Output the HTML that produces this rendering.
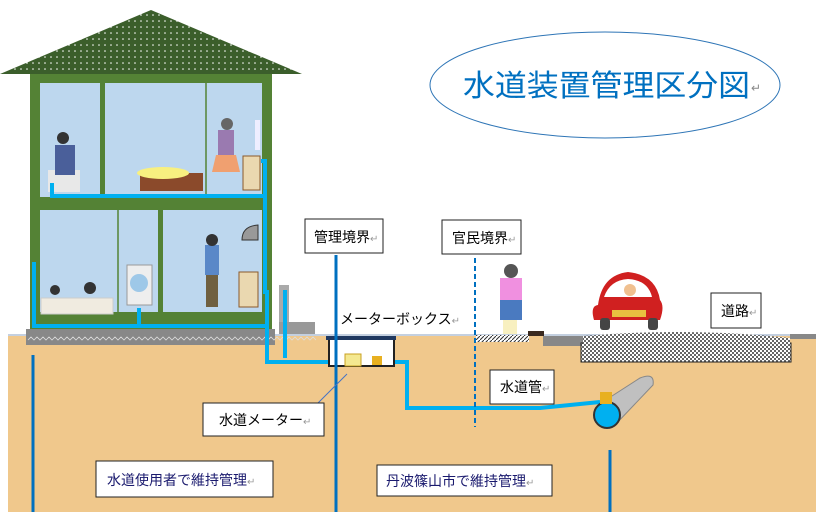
<!DOCTYPE html>
<html><head><meta charset="utf-8"><style>
html,body{margin:0;padding:0;background:#fff;width:816px;height:512px;overflow:hidden}
svg text{font-family:"Liberation Sans","Noto Sans CJK JP",sans-serif}
</style></head><body>
<svg width="816" height="512" viewBox="0 0 816 512" xmlns="http://www.w3.org/2000/svg">
<defs>
<pattern id="dots" width="6" height="6" patternUnits="userSpaceOnUse"><rect width="6" height="6" fill="#3b5e2b"/><circle cx="3" cy="3" r="0.8" fill="#fff"/></pattern>
<pattern id="chk" width="4" height="4" patternUnits="userSpaceOnUse"><rect width="4" height="4" fill="#fff"/><rect width="2" height="2" fill="#666"/><rect x="2" y="2" width="2" height="2" fill="#666"/></pattern>
<pattern id="hatch" width="4" height="4" patternUnits="userSpaceOnUse"><rect width="4" height="4" fill="#fff"/><path d="M0 4L4 0" stroke="#333" stroke-width="1"/></pattern>
</defs>
<!-- ground -->
<rect x="8" y="336" width="808" height="176" fill="#f0c88c"/>
<line x1="8" y1="335" x2="816" y2="335" stroke="#8aa0c0" stroke-width="1"/>
<!-- roof -->
<polygon points="151,10 0,74 302,74" fill="url(#dots)"/>
<!-- house -->
<rect x="30" y="74" width="242" height="256" fill="#548235"/>
<rect x="40" y="83" width="60" height="114" fill="#bdd7ee"/>
<rect x="105" y="83" width="157" height="111" fill="#bdd7ee"/>
<line x1="206" y1="83" x2="206" y2="194" stroke="#548235" stroke-width="1.5"/>
<rect x="40" y="210" width="118" height="102" fill="#bdd7ee"/>
<line x1="118" y1="210" x2="118" y2="312" stroke="#548235" stroke-width="1.5"/>
<rect x="163" y="210" width="99" height="102" fill="#bdd7ee"/>
<!-- foundation -->
<rect x="26" y="329" width="249" height="16" fill="#888"/>
<path d="M28 340 l3 -3 l3 3 l3 -3 l3 3 l3 -3 l3 3 l3 -3 l3 3 l3 -3 l3 3 l3 -3 l3 3 l3 -3 l3 3 l3 -3 l3 3 l3 -3 l3 3 l3 -3 l3 3 l3 -3 l3 3 l3 -3 l3 3 l3 -3 l3 3 l3 -3 l3 3 l3 -3 l3 3 l3 -3 l3 3 l3 -3 l3 3 l3 -3 l3 3 l3 -3 l3 3 l3 -3 l3 3 l3 -3 l3 3 l3 -3 l3 3 l3 -3 l3 3 l3 -3 l3 3 l3 -3 l3 3 l3 -3 l3 3 l3 -3 l3 3 l3 -3 l3 3 l3 -3 l3 3 l3 -3 l3 3 l3 -3 l3 3 l3 -3 l3 3 l3 -3 l3 3 l3 -3 l3 3 l3 -3 l3 3 l3 -3 l3 3 l3 -3 l3 3 l3 -3 l3 3 l3 -3 l3 3 l3 -3 l3 3 l3 -3 l3 3 l3 -3 l3 3 l3 -3 l3 3 l3 -3 l3 3 l3 -3 l3 3 l3 -3 l3 3 l3 -3 l3 3 l3 -3 l3 3" fill="none" stroke="#ddd" stroke-width="0.8"/>
<!-- furniture / people simplified -->
<rect x="48" y="170" width="32" height="22" fill="#e8e8e8"/>
<rect x="55" y="145" width="20" height="30" fill="#4a5f9a"/>
<circle cx="63" cy="138" r="6" fill="#333"/>
<rect x="140" y="173" width="63" height="18" fill="#8b4a2b"/>
<ellipse cx="163" cy="173" rx="26" ry="6" fill="#f8f080"/>
<rect x="218" y="130" width="16" height="25" fill="#9a7ab0"/>
<polygon points="216,155 236,155 240,172 212,172" fill="#f0a070"/>
<circle cx="227" cy="124" r="6" fill="#666"/>
<rect x="243" y="156" width="17" height="34" fill="#ead8b0" stroke="#8b5a2b"/>
<rect x="255" y="120" width="5" height="30" fill="#eef"/>
<rect x="41" y="298" width="72" height="16" fill="#f0ebe0" stroke="#ccc"/>
<circle cx="55" cy="290" r="5" fill="#333"/><circle cx="90" cy="288" r="6" fill="#333"/>
<rect x="127" y="265" width="25" height="40" fill="#eee" stroke="#999"/>
<circle cx="139" cy="283" r="9" fill="#9ec8e8"/>
<rect x="205" y="245" width="14" height="30" fill="#5a88c8"/>
<rect x="206" y="275" width="12" height="32" fill="#706040"/>
<circle cx="212" cy="240" r="6" fill="#333"/>
<rect x="239" y="272" width="19" height="35" fill="#ead8b0" stroke="#8b5a2b"/>
<path d="M242 240 Q242 226 258 225 L258 240 Z" fill="#999" stroke="#333"/>
<rect x="279" y="285" width="10" height="48" fill="#aaa"/>
<rect x="279" y="322" width="36" height="12" fill="#999"/>
<!-- pipes -->
<g fill="none" stroke="#00b0f0" stroke-width="4">
<path d="M52 183 V196 H265"/>
<path d="M261 161 H265 V292 H267 V362 H330"/>
<path d="M34 262 V326 H265"/>
<path d="M139 308 V326"/>
<path d="M285 290 V358"/>
<path d="M395 362 H407 V408 H540 L600 402"/>
</g>
<!-- meter box -->
<rect x="329" y="339" width="65" height="27" fill="#fff" stroke="#222" stroke-width="2"/>
<rect x="326" y="336" width="70" height="4" fill="#1f3860"/>
<rect x="345" y="354" width="16" height="12" fill="#f4e890" stroke="#c9a020"/>
<rect x="372" y="356" width="10" height="9" fill="#e8b020"/>
<!-- vertical boundary lines -->
<g stroke="#0070c0" stroke-width="3">
<line x1="336" y1="255" x2="336" y2="512"/>
<line x1="33" y1="355" x2="33" y2="512"/>
<line x1="610" y1="450" x2="610" y2="512"/>
</g>
<line x1="475" y1="258" x2="475" y2="427" stroke="#0070c0" stroke-width="2" stroke-dasharray="5,3"/>
<line x1="316" y1="370" x2="347" y2="370" stroke="none"/>
<line x1="317" y1="404" x2="347" y2="374" stroke="#4472c4" stroke-width="1"/>
<!-- sidewalk & road -->
<rect x="476" y="335" width="53" height="7" fill="url(#hatch)"/>
<rect x="528" y="331" width="16" height="5" fill="#3a2a20"/>
<rect x="543" y="336" width="40" height="10" fill="#888"/>
<rect x="581" y="343" width="210" height="19" fill="url(#chk)" stroke="#222"/>
<path d="M583 336 Q690 327 790 338 L790 345 L583 345 Z" fill="url(#chk)"/>
<rect x="790" y="334" width="26" height="5" fill="#888"/>
<!-- woman -->
<rect x="500" y="278" width="22" height="24" fill="#f090e0"/>
<rect x="500" y="300" width="22" height="20" fill="#4a7ac0"/>
<circle cx="511" cy="271" r="7" fill="#555"/>
<rect x="503" y="320" width="14" height="14" fill="#f8f0c0"/>
<!-- car -->
<path d="M598 305 Q602 275 628 272 Q656 275 660 300 Q665 306 660 320 L594 320 Q590 306 598 305 Z" fill="#d02020"/>
<path d="M604 297 Q610 280 628 279 Q648 280 652 297 Z" fill="#fff"/>
<circle cx="630" cy="290" r="6" fill="#f0c090"/>
<rect x="600" y="318" width="10" height="12" fill="#444" rx="3"/><rect x="648" y="318" width="10" height="12" fill="#444" rx="3"/>
<rect x="612" y="310" width="34" height="7" fill="#e8c040"/>
<!-- main pipe -->
<path d="M598 405 L640 378 Q655 372 653 385 L615 425 Z" fill="#c0c0c0" stroke="#888"/>
<circle cx="607" cy="415" r="13" fill="#00b0f0" stroke="#333" stroke-width="2"/>
<rect x="600" y="392" width="12" height="12" fill="#e8b020"/>
<!-- title ellipse -->
<ellipse cx="605" cy="85" rx="175" ry="53" fill="#fff" stroke="#2e75b6" stroke-width="1"/>
<text x="463" y="96" font-size="30" fill="#0070c0" textLength="287" lengthAdjust="spacingAndGlyphs">水道装置管理区分図</text>
<text x="751" y="92" font-size="12" fill="#888">↵</text>
<!-- labels -->
<g stroke="#222" stroke-width="1" fill="#fff">
<rect x="305" y="219" width="78" height="34"/>
<rect x="442" y="220" width="79" height="34"/>
<rect x="490" y="370" width="64" height="34"/>
<rect x="203" y="403" width="121" height="33"/>
<rect x="96" y="461" width="177" height="36"/>
<rect x="377" y="465" width="175" height="31"/>
<rect x="711" y="293" width="50" height="35"/>
</g>
<g font-size="14" fill="#000">
<text x="314" y="242">管理境界<tspan fill="#999" font-size="10">↵</tspan></text>
<text x="452" y="243">官民境界<tspan fill="#999" font-size="10">↵</tspan></text>
<text x="500" y="392">水道管<tspan fill="#999" font-size="10">↵</tspan></text>
<text x="219" y="425">水道メーター<tspan fill="#999" font-size="10">↵</tspan></text>
<text x="721" y="316">道路<tspan fill="#999" font-size="10">↵</tspan></text>
<text x="340" y="324">メーターボックス<tspan fill="#999" font-size="10">↵</tspan></text>
</g>
<g font-size="14" fill="#1a1a6e">
<text x="107" y="485">水道使用者で維持管理<tspan fill="#999" font-size="10">↵</tspan></text>
<text x="386" y="486">丹波篠山市で維持管理<tspan fill="#999" font-size="10">↵</tspan></text>
</g>
</svg>
</body></html>
